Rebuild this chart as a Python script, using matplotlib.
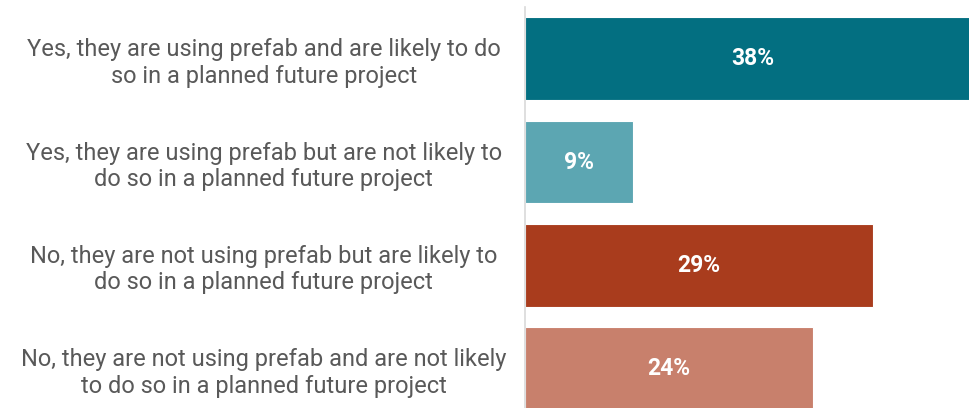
import matplotlib.pyplot as plt

plt.rcParams['font.family'] = ['Roboto', 'DejaVu Sans']

labels = [
    "Yes, they are using prefab and are likely to do\nso in a planned future project",
    "Yes, they are using prefab but are not likely to\ndo so in a planned future project",
    "No, they are not using prefab but are likely to\ndo so in a planned future project",
    "No, they are not using prefab and are not likely\nto do so in a planned future project",
]
values = [38, 9, 29, 24]
colors = ["#036F81", "#5CA6B2", "#A93C1D", "#C8806C"]

fig = plt.figure(figsize=(9.69, 4.08), dpi=100)
ax = fig.add_axes([525 / 969, 0, 1 - 525 / 969, 401 / 408])

ypos = list(range(len(values)))
ax.barh(ypos, values, height=0.8, color=colors, edgecolor="white", linewidth=0.8)

for y, v in zip(ypos, values):
    ax.text(v / 2, y, f"{v}%", ha="center", va="center",
            color="white", fontsize=16.5, fontweight="bold")

ax.set_xlim(0, 37)
ax.set_ylim(3.38, -0.5)
ax.set_yticks(ypos)
ax.set_yticklabels(labels, fontsize=17, color="#595959", ha="center",
                   linespacing=1.2)
ax.tick_params(axis="y", length=0, pad=188)
ax.set_xticks([])

for s in ["top", "right", "bottom"]:
    ax.spines[s].set_visible(False)
ax.spines["left"].set_color("#D9D9D9")
ax.spines["left"].set_linewidth(1.2)

fig.savefig("out.png", dpi=100)
